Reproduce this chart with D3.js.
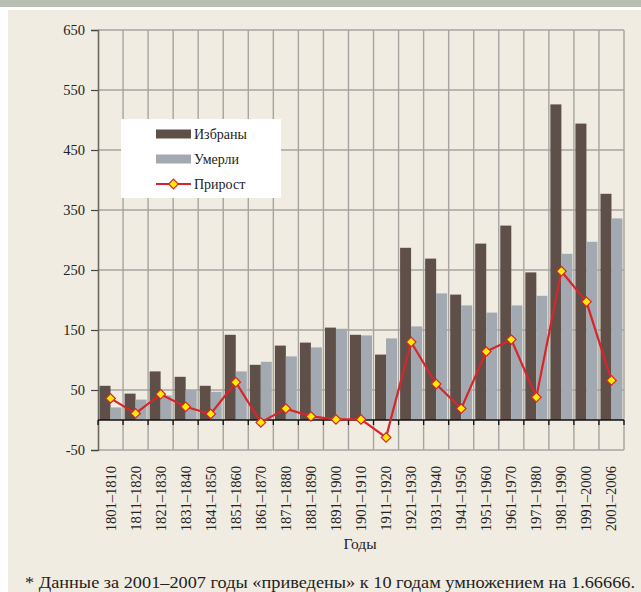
<!DOCTYPE html>
<html>
<head>
<meta charset="utf-8">
<script src="https://cdn.jsdelivr.net/npm/d3@7"></script>
<style>
  body { margin: 0; background: #ffffff; }
  svg { display: block; }
  svg text { font-family: "Liberation Serif", "Times New Roman", serif; }
</style>
</head>
<body>
<div id="chart"></div>
<script>
// decades on the x axis
var periods = ["1801–1810", "1811–1820", "1821–1830", "1831–1840", "1841–1850", "1851–1860",
  "1861–1870", "1871–1880", "1881–1890", "1891–1900", "1901–1910", "1911–1920", "1921–1930",
  "1931–1940", "1941–1950", "1951–1960", "1961–1970", "1971–1980", "1981–1990", "1991–2000", "2001–2006"];
// series
var elected = [57, 44, 81, 72, 57, 142, 92, 124, 129, 154, 142, 109, 287, 269, 209, 294, 324, 246, 526, 494, 377];
var died    = [21, 34, 41, 50, 47, 81, 97, 106, 121, 152, 141, 136, 156, 211, 191, 179, 191, 207, 277, 297, 336];
var growth  = [36, 11, 43, 22, 10, 63, -4, 19, 6, 1, 1, -29, 130, 60, 19, 114, 134, 38, 248, 197, 66];
var yTicks  = [-50, 50, 150, 250, 350, 450, 550, 650];
var seriesNames = ["Избраны", "Умерли", "Прирост"];
var footnote = "* Данные за 2001–2007 годы «приведены» к 10 годам умножением на 1.66666.";

var W = 641, H = 592;
var FONT = "'Liberation Serif', 'Times New Roman', serif";
var margin = { top: 30, left: 98, right: 17, bottom: 142 };
var colors = { elected: "#5f4f49", died: "#a3a9b0", line: "#d6262c", marker: "#ffec00", bg: "#f0ece1" };

var svg = d3.select("#chart").append("svg")
  .attr("width", W)
  .attr("height", H);

// page background: top strip + beige panel
svg.append("rect").attr("x", 0).attr("y", 0).attr("width", W).attr("height", 7).style("fill", "#b8beb1");
svg.append("rect").attr("x", 8).attr("y", 10).attr("width", W - 8).attr("height", H - 10).style("fill", colors.bg);

var y = d3.scaleLinear().domain([-50, 650]).range([H - margin.bottom, margin.top]);
var x0 = d3.scaleBand().domain(periods).range([margin.left, W - margin.right]);
var groupW = 22;
var x1 = d3.scaleBand().domain(["elected", "died"]).range([0, groupW]);
var off = (x0.bandwidth() - groupW) / 2;

var rows = periods.map((p, i) => ({ period: p, elected: elected[i], died: died[i], growth: growth[i] }));

// grid
var grid = svg.append("g").attr("class", "grid");
grid.selectAll("line.h")
  .data(yTicks)
  .enter().append("line")
  .attr("class", "h")
  .attr("x1", margin.left).attr("x2", W - margin.right)
  .attr("y1", d => y(d)).attr("y2", d => y(d))
  .style("stroke", "#a5a4a0").style("stroke-width", 1.4);
var bounds = periods.map(p => x0(p)).concat([W - margin.right]).slice(1);
grid.selectAll("line.v")
  .data(bounds)
  .enter().append("line")
  .attr("class", "v")
  .attr("x1", d => d).attr("x2", d => d)
  .attr("y1", y(650)).attr("y2", y(-50))
  .style("stroke", "#a5a4a0").style("stroke-width", 1.4);

// bars
var bars = svg.append("g").attr("class", "bars")
  .selectAll("g")
  .data(rows)
  .enter().append("g")
  .attr("transform", d => `translate(${x0(d.period) + off},0)`);
["elected", "died"].forEach(key => {
  bars.append("rect")
    .attr("x", x1(key))
    .attr("width", x1.bandwidth())
    .attr("y", d => y(Math.max(0, d[key])))
    .attr("height", d => Math.abs(y(d[key]) - y(0)))
    .style("fill", colors[key]);
});

// y axis
var yAxis = svg.append("g")
  .attr("transform", `translate(${margin.left},0)`)
  .call(d3.axisLeft(y).tickValues(yTicks).tickFormat(d => String(d)).tickSize(7).tickPadding(6));
yAxis.attr("font-family", FONT).attr("font-size", 14.5);
yAxis.select(".domain").style("stroke", "#6b6862").style("stroke-width", 1.6);
yAxis.selectAll(".tick line").style("stroke", "#4a4845").style("stroke-width", 1.2);
yAxis.selectAll("text").style("font-family", FONT).style("font-size", "14.5px").style("fill", "#222");

// zero axis with category ticks
var xAxis = svg.append("g")
  .attr("transform", `translate(0,${y(0)})`);
xAxis.append("line")
  .attr("x1", margin.left).attr("x2", W - margin.right)
  .style("stroke", "#111").style("stroke-width", 1.6);
xAxis.selectAll("line.t")
  .data(bounds.concat([margin.left]))
  .enter().append("line")
  .attr("class", "t")
  .attr("x1", d => d).attr("x2", d => d)
  .attr("y1", 0).attr("y2", 5)
  .style("stroke", "#111").style("stroke-width", 1.3);

// category labels (rotated)
svg.append("g").selectAll("text")
  .data(periods)
  .enter().append("text")
  .attr("transform", d => `translate(${x0(d) + x0.bandwidth() / 2 + 5},${y(-50) + 16}) rotate(-90)`)
  .attr("text-anchor", "end")
  .style("font-family", FONT)
  .style("font-size", "14.5px")
  .style("fill", "#222")
  .text(d => d);

svg.append("text")
  .attr("x", 360).attr("y", 549)
  .attr("text-anchor", "middle")
  .style("font-family", FONT)
  .style("font-size", "15.5px").style("fill", "#222")
  .text("Годы");

// growth line
var cx = d => x0(d.period) + x0.bandwidth() / 2;
svg.append("path")
  .datum(rows)
  .attr("d", d3.line().x(cx).y(d => y(d.growth)))
  .style("fill", "none").style("stroke", colors.line).style("stroke-width", 2.2);
var diamond = d3.symbol().type(d3.symbolSquare).size(46);
svg.append("g").selectAll("path")
  .data(rows)
  .enter().append("path")
  .attr("d", diamond)
  .attr("transform", d => `translate(${cx(d)},${y(d.growth)}) rotate(45)`)
  .style("fill", colors.marker).style("stroke", colors.line).style("stroke-width", 1.2);

// legend
var lg = svg.append("g").attr("transform", "translate(121,119)");
lg.append("rect").attr("width", 160).attr("height", 79).style("fill", "#ffffff");
var items = lg.selectAll("g.item")
  .data(seriesNames)
  .enter().append("g")
  .attr("class", "item")
  .attr("transform", (d, i) => `translate(35,${15 + i * 25})`);
items.filter((d, i) => i < 2).append("rect")
  .attr("x", 0).attr("y", -4.5).attr("width", 35).attr("height", 9)
  .style("fill", (d, i) => i === 0 ? colors.elected : colors.died);
var lineItem = items.filter((d, i) => i === 2);
lineItem.append("line")
  .attr("x1", 0).attr("x2", 35)
  .style("stroke", colors.line).style("stroke-width", 2.2);
lineItem.append("path")
  .attr("d", diamond)
  .attr("transform", "translate(17.5,0) rotate(45)")
  .style("fill", colors.marker).style("stroke", colors.line).style("stroke-width", 1.2);
items.append("text")
  .attr("x", 38).attr("y", 0).attr("dy", "0.35em")
  .style("font-family", FONT)
  .style("font-size", "14px").style("fill", "#222")
  .text(d => d);

// footnote
svg.append("text")
  .attr("x", 25).attr("y", 588)
  .attr("textLength", 610)
  .attr("lengthAdjust", "spacingAndGlyphs")
  .style("font-family", FONT)
  .style("font-size", "16.5px").style("fill", "#222")
  .text(footnote);
</script>
</body>
</html>
